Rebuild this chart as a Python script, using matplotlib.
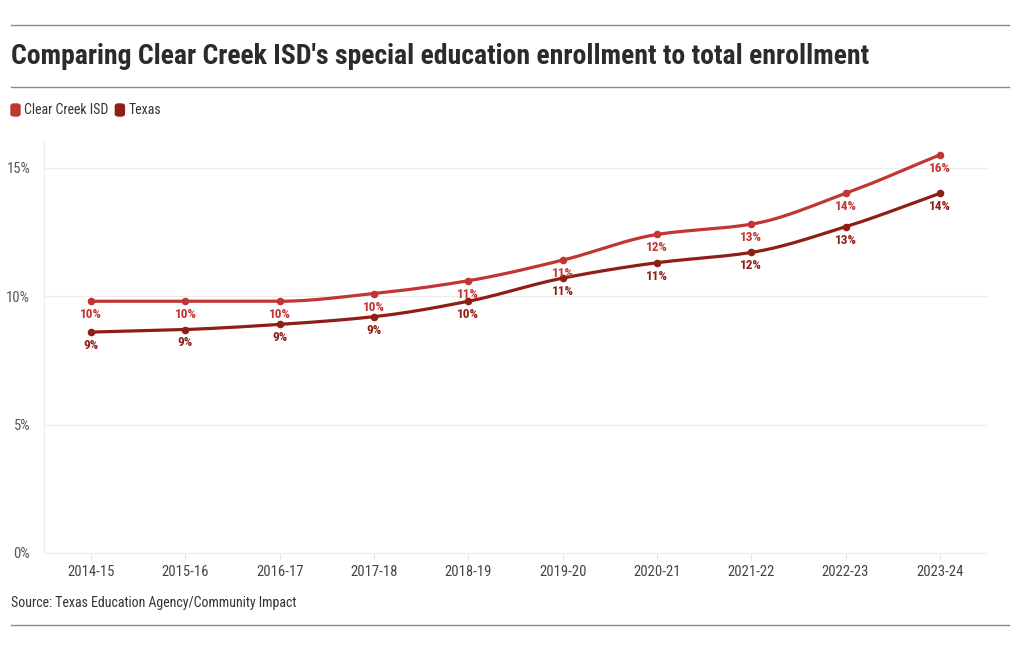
import numpy as np
import matplotlib
matplotlib.use("Agg")
import matplotlib.pyplot as plt
from matplotlib.patches import FancyBboxPatch
from matplotlib.lines import Line2D

plt.rcParams['font.family'] = ['Roboto Condensed', 'Roboto', 'DejaVu Sans']

years = ["2014-15", "2015-16", "2016-17", "2017-18", "2018-19",
         "2019-20", "2020-21", "2021-22", "2022-23", "2023-24"]
clear_creek = [9.8, 9.8, 9.8, 10.1, 10.6, 11.4, 12.4, 12.8, 14.0, 15.5]
texas = [8.6, 8.7, 8.9, 9.2, 9.8, 10.7, 11.3, 11.7, 12.7, 14.0]
series_names = ["Clear Creek ISD", "Texas"]
colors = ["#c23533", "#8e1e16"]
yticks = [0, 5, 10, 15]

title = "Comparing Clear Creek ISD's special education enrollment to total enrollment"
source = "Source: Texas Education Agency/Community Impact"


def monotone(x, y, n=30):
    x = np.asarray(x, float); y = np.asarray(y, float)
    h = np.diff(x); d = np.diff(y) / h
    m = np.zeros_like(y)
    m[0] = d[0]; m[-1] = d[-1]
    for i in range(1, len(y) - 1):
        if d[i - 1] * d[i] <= 0:
            m[i] = 0
        else:
            w1 = 2 * h[i] + h[i - 1]; w2 = h[i] + 2 * h[i - 1]
            m[i] = (w1 + w2) / (w1 / d[i - 1] + w2 / d[i])
    xs, ys = [], []
    for i in range(len(x) - 1):
        t = np.linspace(0, 1, n, endpoint=(i == len(x) - 2))
        h00 = 2 * t**3 - 3 * t**2 + 1
        h10 = t**3 - 2 * t**2 + t
        h01 = -2 * t**3 + 3 * t**2
        h11 = t**3 - t**2
        xs.append(x[i] + t * h[i])
        ys.append(h00 * y[i] + h10 * h[i] * m[i] + h01 * y[i + 1] + h11 * h[i] * m[i + 1])
    return np.concatenate(xs), np.concatenate(ys)


fig = plt.figure(figsize=(10.2, 6.5), dpi=100)
W, H = 1020, 650
ax = fig.add_axes([44 / W, 1 - 553 / H, (987 - 44) / W, (553 - 142) / H])

x = np.arange(len(years))
for vals, c in zip([clear_creek, texas], colors):
    sx, sy = monotone(x, vals)
    ax.plot(sx, sy, color=c, lw=2.3, solid_capstyle='round', zorder=3)
    ax.scatter(x, vals, s=30, color=c, zorder=4, linewidths=0)
    for xi, v in zip(x, vals):
        ax.annotate(f"{round(v):.0f}%", (xi, v), xytext=(0, -5), textcoords='offset points',
                    ha='center', va='top', fontsize=9.5, fontweight='bold', color=c, zorder=5)

ax.set_xlim(-0.5, len(years) - 0.5)
ax.set_ylim(0, 16)
ax.set_yticks(yticks)
ax.set_yticklabels([f"{t}%" for t in yticks])
ax.set_xticks(x)
ax.set_xticklabels(years)
ax.grid(axis='y', color='#ececec', lw=0.8)
ax.set_axisbelow(True)
for s in ['top', 'right']:
    ax.spines[s].set_visible(False)
ax.spines['left'].set_color('#ececec')
ax.spines['bottom'].set_color('#ececec')
ax.tick_params(axis='y', length=0, labelsize=10.5, labelcolor='#555555', pad=10)
ax.tick_params(axis='x', length=5, color='#e6e6e6', labelsize=10.5, labelcolor='#444444', pad=4)

# header / footer rules
for yy in [25, 87, 625]:
    fig.add_artist(Line2D([11 / W, 1009 / W], [1 - yy / H, 1 - yy / H], color='#8a8a8a', lw=1))

fig.text(11 / W, 1 - 57 / H, title, fontsize=20, fontweight='bold', color='#2b2b2b',
         ha='left', va='center')

# legend
lx = 11
for name, c in zip(series_names, colors):
    fig.add_artist(FancyBboxPatch((lx / W, 1 - 116 / H), 9 / W, 12 / H,
                                  boxstyle="round,pad=0,rounding_size=0.003",
                                  transform=fig.transFigure, color=c))
    t = fig.text((lx + 13) / W, 1 - 110 / H, name, fontsize=10, color='#333333',
                 ha='left', va='center')
    fig.canvas.draw()
    bb = t.get_window_extent()
    lx = bb.x1 + 7

fig.text(11 / W, 1 - 603 / H, source, fontsize=10, color='#333333', ha='left', va='center')

fig.savefig("out.png", dpi=100)
